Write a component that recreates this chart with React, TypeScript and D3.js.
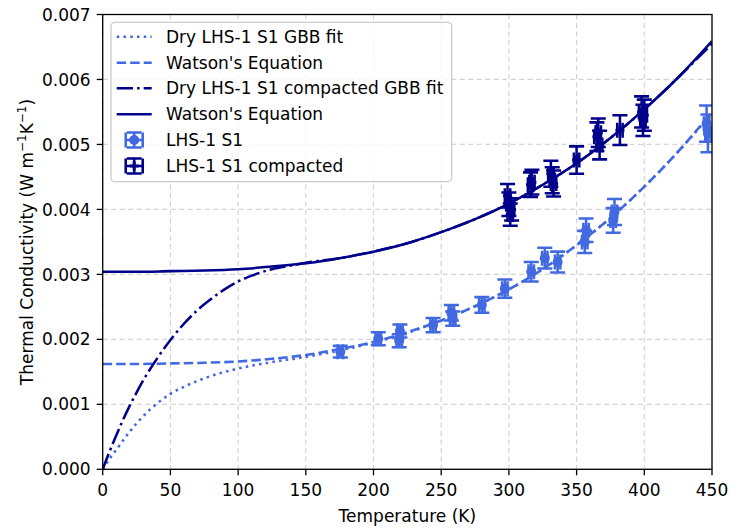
import React from "react";
import * as d3 from "d3";

// ---------- data ----------
const curveT = [0, 25, 50, 75, 100, 125, 150, 175, 200, 225, 250, 275, 300, 325, 350, 375, 400, 425, 450];
const watsonS1 = [0.00162, 0.00162, 0.00163, 0.00164, 0.00166, 0.0017, 0.00176, 0.00185, 0.00196, 0.00211, 0.00229, 0.00251, 0.00277, 0.00308, 0.00345, 0.00387, 0.00435, 0.00489, 0.0055];
const watsonComp = [0.00304, 0.00304, 0.00305, 0.00306, 0.00308, 0.00312, 0.00317, 0.00325, 0.00335, 0.00348, 0.00365, 0.00385, 0.00409, 0.00438, 0.00471, 0.0051, 0.00554, 0.00603, 0.00659];

const gbbS1T = [0, 5, 10, 20, 30, 40, 50, 60, 75, 100, 125, 150, 175, 200, 225, 250, 275, 300, 325, 350, 375, 400, 425, 450];
const gbbS1 = [0, 0.00016, 0.0003, 0.00058, 0.00082, 0.00101, 0.00116, 0.00127, 0.0014, 0.00155, 0.00165, 0.00173, 0.00183, 0.00195, 0.0021, 0.00229, 0.00251, 0.00277, 0.00308, 0.00345, 0.00387, 0.00435, 0.00489, 0.00548];

const gbbCompT = [0, 5, 10, 15, 20, 25, 30, 40, 50, 60, 70, 80, 90, 100, 110, 125, 140, 150, 175, 200, 225, 250, 275, 300, 325, 350, 375, 400, 425, 450];
const gbbComp = [0, 0.00027, 0.00052, 0.00076, 0.00098, 0.00118, 0.00137, 0.0017, 0.00199, 0.00224, 0.00245, 0.00262, 0.00277, 0.00289, 0.00298, 0.00308, 0.00314, 0.00318, 0.00325, 0.00335, 0.00348, 0.00365, 0.00385, 0.00409, 0.00438, 0.00471, 0.0051, 0.00554, 0.00603, 0.00655];

const s1T = [175.5, 203.5, 219.5, 219, 244, 257.5, 258.5, 280, 297, 316.5, 326.5, 336, 356, 357, 377, 378, 446, 447];
const s1K = [0.00181, 0.00201, 0.00213, 0.00198, 0.00222, 0.00241, 0.00232, 0.00253, 0.00278, 0.00304, 0.00325, 0.00319, 0.0035, 0.00368, 0.00383, 0.00396, 0.00532, 0.00517];
const s1Err = [0.00009, 0.0001, 0.0001, 0.0001, 0.00011, 0.00012, 0.00011, 0.00012, 0.00014, 0.00015, 0.00016, 0.00016, 0.00017, 0.00018, 0.00019, 0.0002, 0.00028, 0.00029];
const s1TErr = [2, 2, 2, 2, 2, 2, 2, 2, 2, 2, 2, 2, 2, 2, 2, 2, 2, 2];

const compT = [299, 300, 301, 302, 316, 317, 331, 332, 333, 350, 365, 366, 367, 382, 398, 399, 400];
const compK = [0.00421, 0.00408, 0.00392, 0.004, 0.00438, 0.00442, 0.00455, 0.00445, 0.0044, 0.00476, 0.00512, 0.00518, 0.00499, 0.00522, 0.0055, 0.00537, 0.00545];
const compErr = [0.00018, 0.00018, 0.00017, 0.00017, 0.00019, 0.00019, 0.0002, 0.0002, 0.0002, 0.00021, 0.00022, 0.00022, 0.00022, 0.00023, 0.00024, 0.00024, 0.00024];
const compTErr = [2, 2, 2, 2, 2, 2, 2, 2, 2, 2, 2, 2, 2, 2, 2, 2, 2];

const xTicks = [0, 50, 100, 150, 200, 250, 300, 350, 400, 450];
const yTicks = [0, 0.001, 0.002, 0.003, 0.004, 0.005, 0.006, 0.007];

const legendLabels = [
  "Dry LHS-1 S1 GBB fit",
  "Watson's Equation",
  "Dry LHS-1 S1 compacted GBB fit",
  "Watson's Equation",
  "LHS-1 S1",
  "LHS-1 S1 compacted",
];

const LIGHT = "#4169E1";
const DARK = "#00008B";
const FONT = "DejaVu Sans, sans-serif";
const FS = 17;
const LW = 2.55;

export default function App() {
  const W = 730;
  const H = 529;
  const x = d3.scaleLinear().domain([0, 450]).range([102.7, 712]);
  const y = d3.scaleLinear().domain([0, 0.007]).range([469.3, 14.5]);

  const line = (ts: number[], vs: number[]) =>
    d3
      .line<number>()
      .x((_, i) => x(ts[i]))
      .y((v) => y(v))
      .curve(d3.curveMonotoneX)(vs) || "";

  const dotted = `${LW},${LW * 1.65}`;
  const dashed = `${LW * 3.7},${LW * 1.6}`;
  const dashdot = `${LW * 6.4},${LW * 1.6},${LW},${LW * 1.6}`;
  const cap = 7.5;

  const errPoint = (
    cx: number,
    cy: number,
    ex: number,
    eyTop: number,
    eyBot: number,
    color: string,
    marker: "o" | "P",
    key: string
  ) => (
    <g key={key} stroke={color} strokeWidth={LW} fill={color}>
      <line x1={cx} x2={cx} y1={eyTop} y2={eyBot} />
      <line x1={cx - cap} x2={cx + cap} y1={eyTop} y2={eyTop} />
      <line x1={cx - cap} x2={cx + cap} y1={eyBot} y2={eyBot} />
      <line x1={cx - ex} x2={cx + ex} y1={cy} y2={cy} />
      <line x1={cx - ex} x2={cx - ex} y1={cy - cap} y2={cy + cap} />
      <line x1={cx + ex} x2={cx + ex} y1={cy - cap} y2={cy + cap} />
      {marker === "o" ? (
        <circle cx={cx} cy={cy} r={5} stroke="none" />
      ) : (
        <path
          d={d3.symbol(d3.symbolCross, 45)() || ""}
          transform={`translate(${cx},${cy})`}
          stroke="none"
        />
      )}
    </g>
  );

  const legendRows = [36.7, 62.7, 88.3, 114.3, 140, 166];
  const hx0 = 116.7;
  const hx1 = 151.7;
  const hxc = (hx0 + hx1) / 2;

  return (
    <svg
      width={W}
      height={H}
      style={{ position: "absolute", left: 0, top: 0, background: "#fff" }}
      fontFamily={FONT}
    >
      <defs>
        <clipPath id="plotclip">
          <rect x={102.7} y={14.5} width={712 - 102.7} height={469.3 - 14.5} />
        </clipPath>
      </defs>
      <rect x={0} y={0} width={W} height={H} fill="#fff" />

      {/* grid */}
      <g stroke="#d4d4d4" strokeWidth={1.2} strokeDasharray="5,3.5">
        {xTicks.map((t) => (
          <line key={"gx" + t} x1={x(t)} x2={x(t)} y1={14.5} y2={469.3} />
        ))}
        {yTicks.map((t) => (
          <line key={"gy" + t} x1={102.7} x2={712} y1={y(t)} y2={y(t)} />
        ))}
      </g>

      <g clipPath="url(#plotclip)" fill="none" strokeWidth={LW}>
        <path d={line(gbbS1T, gbbS1)} stroke={LIGHT} strokeDasharray={dotted} />
        <path d={line(curveT, watsonS1)} stroke={LIGHT} strokeDasharray={dashed} />
        <path d={line(gbbCompT, gbbComp)} stroke={DARK} strokeDasharray={dashdot} />
        <path d={line(curveT, watsonComp)} stroke={DARK} />
      </g>

      <g clipPath="url(#plotclip)">
        {s1T.map((t, i) =>
          errPoint(
            x(t),
            y(s1K[i]),
            x(t + s1TErr[i]) - x(t),
            y(s1K[i] + s1Err[i]),
            y(s1K[i] - s1Err[i]),
            LIGHT,
            "o",
            "s" + i
          )
        )}
        {compT.map((t, i) =>
          errPoint(
            x(t),
            y(compK[i]),
            x(t + compTErr[i]) - x(t),
            y(compK[i] + compErr[i]),
            y(compK[i] - compErr[i]),
            DARK,
            "P",
            "c" + i
          )
        )}
      </g>

      {/* spines */}
      <rect x={102.7} y={14.5} width={712 - 102.7} height={469.3 - 14.5} fill="none" stroke="#000" strokeWidth={1.3} />

      {/* x ticks */}
      <g fontSize={FS} fill="#000">
        {xTicks.map((t) => (
          <g key={"xt" + t}>
            <line x1={x(t)} x2={x(t)} y1={469.3} y2={475.3} stroke="#000" strokeWidth={1.3} />
            <text x={x(t)} y={496} textAnchor="middle">
              {t}
            </text>
          </g>
        ))}
        {yTicks.map((t) => (
          <g key={"yt" + t}>
            <line x1={96.7} x2={102.7} y1={y(t)} y2={y(t)} stroke="#000" strokeWidth={1.3} />
            <text x={90.7} y={y(t)} dy="0.36em" textAnchor="end">
              {t.toFixed(3)}
            </text>
          </g>
        ))}
        <text x={(102.7 + 712) / 2} y={522} textAnchor="middle">
          Temperature (K)
        </text>
        <text transform={`translate(33,242) rotate(-90)`} textAnchor="middle">
          Thermal Conductivity (W m
          <tspan baselineShift="super" fontSize={12}>
            −1
          </tspan>
          K
          <tspan baselineShift="super" fontSize={12}>
            −1
          </tspan>
          )
        </text>
      </g>

      {/* legend */}
      <g>
        <rect x={111} y={22.3} width={451.7 - 111} height={181.7 - 22.3} rx={4} fill="#fff" fillOpacity={0.8} stroke="#cccccc" strokeWidth={1.3} />
        <g fill="none" strokeWidth={LW}>
          <line x1={hx0} x2={hx1} y1={legendRows[0]} y2={legendRows[0]} stroke={LIGHT} strokeDasharray={dotted} />
          <line x1={hx0} x2={hx1} y1={legendRows[1]} y2={legendRows[1]} stroke={LIGHT} strokeDasharray={dashed} />
          <line x1={hx0} x2={hx1} y1={legendRows[2]} y2={legendRows[2]} stroke={DARK} strokeDasharray={dashdot} />
          <line x1={hx0} x2={hx1} y1={legendRows[3]} y2={legendRows[3]} stroke={DARK} />
        </g>
        {errPoint(hxc, legendRows[4], 8.5, legendRows[4] - 7.5, legendRows[4] + 7.5, LIGHT, "o", "lg1")}
        {errPoint(hxc, legendRows[5], 8.5, legendRows[5] - 7.5, legendRows[5] + 7.5, DARK, "P", "lg2")}
        <g fontSize={FS} fill="#000">
          {legendLabels.map((l, i) => (
            <text key={"lt" + i} x={166} y={legendRows[i]} dy="0.36em">
              {l}
            </text>
          ))}
        </g>
      </g>
    </svg>
  );
}
